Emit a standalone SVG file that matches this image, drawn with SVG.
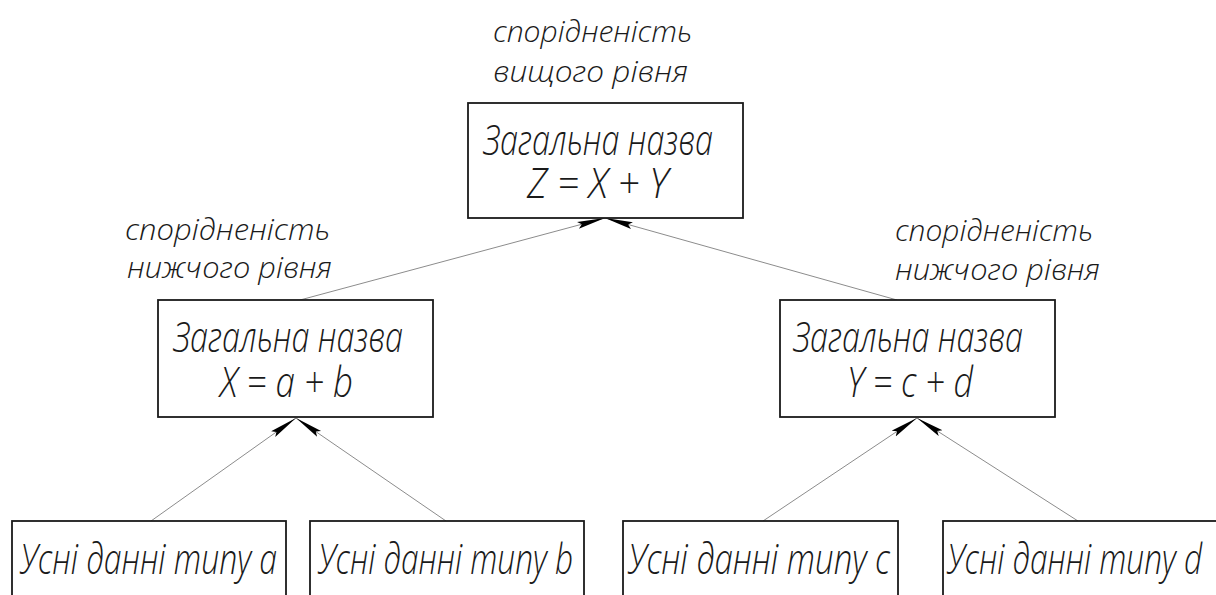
<svg xmlns="http://www.w3.org/2000/svg" width="1216" height="595" viewBox="0 0 1216 595">
  <style>
    .box { fill: #ffffff; stroke: #1a1a1a; stroke-width: 1.8; }
    .conn { stroke: #8c8c8c; stroke-width: 1; fill: none; }
    .t { font-family: "Open Sans", "Liberation Sans", "DejaVu Sans", sans-serif; font-style: italic; font-weight: 300; fill: #1a1a1a; }
    .big { font-size: 42px; }
    .lbl { font-size: 30px; }
  </style>
  <defs>
    <marker id="arrow" markerUnits="userSpaceOnUse" markerWidth="30" markerHeight="10" refX="28" refY="4" orient="auto">
      <path d="M0,0.5 L28,4 L0,7.5 L4,4 z" fill="#000000"/>
    </marker>
  </defs>
  <rect width="1216" height="595" fill="#ffffff"/>

  <g id="connectors">
    <line class="conn" x1="300" y1="300" x2="605" y2="218" marker-end="url(#arrow)"/>
    <line class="conn" x1="897" y1="300" x2="605" y2="218" marker-end="url(#arrow)"/>
    <line class="conn" x1="151" y1="521" x2="296" y2="418" marker-end="url(#arrow)"/>
    <line class="conn" x1="446" y1="521" x2="296" y2="418" marker-end="url(#arrow)"/>
    <line class="conn" x1="763" y1="521" x2="917" y2="418" marker-end="url(#arrow)"/>
    <line class="conn" x1="1078" y1="521" x2="917" y2="418" marker-end="url(#arrow)"/>
  </g>

  <g id="label-top">
    <text class="t lbl"><tspan x="493" y="42" textLength="199" lengthAdjust="spacingAndGlyphs">спорідненість</tspan><tspan x="493" y="82" textLength="195" lengthAdjust="spacingAndGlyphs">вищого рівня</tspan></text>
  </g>
  <g id="label-left">
    <text class="t lbl"><tspan x="125" y="240" textLength="205" lengthAdjust="spacingAndGlyphs">спорідненість</tspan><tspan x="127" y="278" textLength="205" lengthAdjust="spacingAndGlyphs">нижчого рівня</tspan></text>
  </g>
  <g id="label-right">
    <text class="t lbl"><tspan x="895" y="241" textLength="198" lengthAdjust="spacingAndGlyphs">спорідненість</tspan><tspan x="895" y="280" textLength="205" lengthAdjust="spacingAndGlyphs">нижчого рівня</tspan></text>
  </g>

  <g id="node-z">
    <rect class="box" x="468" y="103" width="275" height="115"/>
    <text class="t big"><tspan x="483" y="155" textLength="230" lengthAdjust="spacingAndGlyphs">Загальна назва</tspan><tspan x="527" y="198" textLength="141" lengthAdjust="spacingAndGlyphs">Z = X + Y</tspan></text>
  </g>
  <g id="node-x">
    <rect class="box" x="158" y="300" width="275" height="117"/>
    <text class="t big"><tspan x="173" y="352" textLength="230" lengthAdjust="spacingAndGlyphs">Загальна назва</tspan><tspan x="220" y="397" textLength="133" lengthAdjust="spacingAndGlyphs">X = a + b</tspan></text>
  </g>
  <g id="node-y">
    <rect class="box" x="780" y="300" width="275" height="117"/>
    <text class="t big"><tspan x="793" y="352" textLength="230" lengthAdjust="spacingAndGlyphs">Загальна назва</tspan><tspan x="847" y="397" textLength="126" lengthAdjust="spacingAndGlyphs">Y = c + d</tspan></text>
  </g>

  <g id="node-a">
    <rect class="box" x="12" y="521" width="274" height="100"/>
    <text class="t big" x="20" y="574" textLength="257" lengthAdjust="spacingAndGlyphs">Усні данні типу a</text>
  </g>
  <g id="node-b">
    <rect class="box" x="310" y="521" width="274" height="100"/>
    <text class="t big" x="318" y="574" textLength="255" lengthAdjust="spacingAndGlyphs">Усні данні типу b</text>
  </g>
  <g id="node-c">
    <rect class="box" x="623" y="521" width="275" height="100"/>
    <text class="t big" x="628" y="574" textLength="262" lengthAdjust="spacingAndGlyphs">Усні данні типу c</text>
  </g>
  <g id="node-d">
    <rect class="box" x="943" y="521" width="290" height="100"/>
    <text class="t big" x="947" y="574" textLength="255" lengthAdjust="spacingAndGlyphs">Усні данні типу d</text>
  </g>
</svg>
